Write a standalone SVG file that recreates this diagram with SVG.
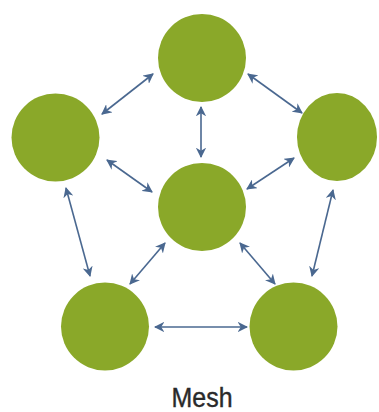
<svg xmlns="http://www.w3.org/2000/svg" width="379" height="412" viewBox="0 0 379 412">
  <style>
    .node { fill: #8aa829; }
    .link { stroke: #4a6890; stroke-width: 1.6; fill: none; marker-start: url(#head); marker-end: url(#head); }
    .label { font-family: "Liberation Sans", Arial, sans-serif; font-size: 28px; fill: #2a2a2a; stroke: #2a2a2a; stroke-width: 0.4; }
  </style>
  <defs>
    <marker id="head" viewBox="0 0 10 10" refX="9" refY="5" markerWidth="6.5" markerHeight="6.5" orient="auto-start-reverse" markerUnits="strokeWidth">
      <path d="M0,0 L10,5 L0,10 L3,5 Z" fill="#4a6890"/>
    </marker>
  </defs>
  <rect width="379" height="412" fill="#ffffff"/>

  <g id="connectors">
    <line class="link" x1="153" y1="74" x2="102" y2="114"/>
    <line class="link" x1="248" y1="74" x2="302" y2="113"/>
    <line class="link" x1="201" y1="107" x2="201" y2="157"/>
    <line class="link" x1="107" y1="160" x2="152" y2="192"/>
    <line class="link" x1="294" y1="158" x2="247" y2="189"/>
    <line class="link" x1="66" y1="188" x2="90" y2="276"/>
    <line class="link" x1="333" y1="190" x2="312" y2="276"/>
    <line class="link" x1="165" y1="243" x2="130" y2="284"/>
    <line class="link" x1="240" y1="243" x2="275" y2="284"/>
    <line class="link" x1="155" y1="327" x2="247" y2="327"/>
  </g>

  <g id="node-top"><circle class="node" cx="202" cy="58" r="44"/></g>
  <g id="node-left"><circle class="node" cx="55.5" cy="137.5" r="44"/></g>
  <g id="node-right"><ellipse class="node" cx="337" cy="137" rx="40" ry="44"/></g>
  <g id="node-center"><circle class="node" cx="202" cy="207" r="44"/></g>
  <g id="node-bottom-left"><circle class="node" cx="105" cy="326.5" r="44"/></g>
  <g id="node-bottom-right"><circle class="node" cx="293.5" cy="326.5" r="44"/></g>

  <text class="label" x="202" y="407" text-anchor="middle" textLength="61" lengthAdjust="spacingAndGlyphs">Mesh</text>
</svg>
